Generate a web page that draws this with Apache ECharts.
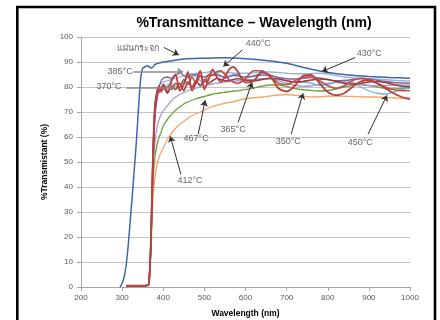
<!DOCTYPE html>
<html>
<head>
<meta charset="utf-8">
<script src="https://cdn.jsdelivr.net/npm/echarts@6/dist/echarts.min.js"></script>
<style>
html, body { margin: 0; padding: 0; background: #fff; }
#chart { width: 440px; height: 320px; }
</style>
</head>
<body>
<div id="chart"></div>
<script>
// wavelength (nm) shared by the annealed samples
var wavelength = [310,320,330,340,350,360,365,370,375,380,385,390,395,400,
  410,420,430,440,450,460,470,480,490,500,510,520,530,540,550,560,570,580,590,600,
  620,640,660,680,700,720,740,760,780,800,820,840,860,880,900,920,940,960,980,1000];

// plain glass (แผ่นกระจก) has its own wavelength points
var glassWl = [295,300,305,310,315,320,325,330,335,340,345,350,355,360,365,370,375,380,390,400,
  425,450,500,550,600,650,700,750,800,850,900,950,1000];
var glassT = [0,1.5,4,9,17,27,37,48,59,72,83,87.5,88,88.5,88.2,87.6,88,89,89.6,90,
  90.6,91.2,91.5,91.7,91.3,90.6,89.5,87.5,85.8,84.8,84.2,83.8,83.5];

var t412 = [0.5,0.5,0.5,0.5,0.5,0.6,1, 16,35,44,49,52,54,55.5,
  59,61.5,63.5,65,66.3,67.5,68.5,69.3,70,70.8,71.5,72.2,72.7,73.1,73.5,73.8,74.1,74.5,75,75.3,
  75.7,76,76.4,76.8,77,76.7,76.4,76,76.1,76.3,76.4,76.3,76.2,76.1,76,76,75.8,75.6,75.5,75.3];
var t467 = [0.5,0.5,0.5,0.5,0.5,0.6,1, 17,42,52,57,60,62,64.5,
  67,69,70.7,72,73.2,74,74.7,75.3,75.8,76.2,76.7,77.1,77.4,77.7,77.9,78.1,78.3,78.5,78.7,79,
  79.6,80.3,80.8,80.8,80.2,79.4,78.9,78.6,78.4,78.6,79.2,80,80.7,80.9,80.6,80,79.4,79.2,79.4,79.6];
var t350 = [0.5,0.5,0.5,0.5,0.5,0.6,1, 17,45,58,64,67,69,70.5,
  72.5,74.5,76,77,77.8,78.5,79,79.5,80,80.4,80.8,81.2,81.5,81.8,82,82.2,82.3,82.5,82.6,82.7,
  83,83.3,83.2,82.5,81.5,80.7,80.3,80.5,81,81.5,81.8,81.8,81.5,81,80.6,80.5,80.6,80.8,80.8,80.7];
var t430 = [0.5,0.5,0.5,0.5,0.5,0.6,1, 18,52,72,78,80.5,81.5,82,
  82.5,83,83.5,84,84.5,85,85.3,85.5,85.7,85.8,86,86,86,86,85.8,85.7,85.6,85.5,85.5,85.5,
  85.7,86,86,85.8,85.5,85.3,85.3,85.4,85.5,85.2,84.6,84,83.7,83.5,83.3,83.1,82.9,82.7,82.5,82.4];
var t450 = [0.5,0.5,0.5,0.5,0.5,0.6,1, 18,50,70,76,79,79.5,80,
  80.5,81.5,80.5,80,82,84,85,84,82.5,82,83.5,85,85.5,84.5,83.5,84,85,85,84,83.5,
  84.5,85.5,85,83.5,82.5,82,82,81.5,80.7,81,82,82.7,82,80,78.5,77.5,77.2,78,79,79.5];
var t385 = [0.5,0.5,0.5,0.5,0.5,0.6,1, 17,48,68,75,80,82.5,83.5,
  84,83.5,84.5,85.8,84.5,84,84.5,85,84.5,84,84.5,85,84.8,84.3,84,84.3,84.6,84.5,84.2,84,
  84.3,84.8,84.5,83.8,83.3,83.2,83.5,83.8,83.6,83,82.5,82.5,83,83.3,83.2,82.7,82.2,81.8,81.6,81.5];
var t370 = [0.5,0.5,0.5,0.5,0.5,0.6,1, 18,53,73,78,80.5,78,81,
  77.5,80.5,79,81.5,78.5,82,80,82.5,80.5,83,81.5,82.5,83.5,83,82.5,82.5,83,83.3,83.2,82.8,
  82.5,83,83.5,83.2,82.5,82,82.2,82.8,83.2,83,82.3,81.5,81.2,81.5,82,82.2,81.8,81,80.3,80];
var t365 = [0.5,0.5,0.5,0.5,0.5,0.6,1, 18,50,71,77,78,80,79,
  80,79,81.5,80,83,81,84,81.5,84.5,82,85,84.5,86,86.5,85,83,82,81.5,82,83.5,
  86.5,86.5,84,81.5,81,82.5,84,84,82.5,80.5,79.5,80.5,82.5,83.5,83,81.5,80,79,78.5,78.5];
var t440 = [0.5,0.5,0.5,0.5,0.5,0.6,1, 18,52,72,78,80,79,81,
  78,82.5,85,78.5,81,86,78.5,82,86.5,79,83,87,84,82,84,87,88,86.5,83.5,81.8,
  82.5,86,84.5,79.5,78.2,80.5,84.5,84.8,81.5,78,76.7,77.5,80,82.2,82.7,81.5,79.5,77.5,76,75.2];

// annotations: text, label point, arrow start, arrow end (data units)
var noteText = ["แผ่นกระจก","440°C","430°C","385°C","370°C","467°C","412°C","365°C","350°C","450°C"];
var noteAt = [[338,95.5],[631,97.5],[901,93.5],[295,86.2],[268,80.3],[480,59.5],[465,42.7],[570,63.1],[704,58.3],[879,57.9]];
var noteFrom = [[402,95.8],[592,94.8],[867,91.8],[327,86.2],[310,79.9],[485,61.1],[443,45],[582,65.9],[711,61.1],[898,61.1]];
var noteTo = [[438,92.8],[546,88.2],[786,86.2],[448,86.2],[424,79.9],[502,74.7],[417,60.3],[616,81.9],[740,77.5],[944,76.7]];

var chart = echarts.init(document.getElementById("chart"));

function pairs(xs, ys) {
  return xs.map(function (x, i) { return [x, ys[i]]; });
}

var samples = [
  ["412°C", t412, "#F7A466", 1.3],
  ["467°C", t467, "#72A243", 1.3],
  ["350°C", t350, "#A89CD2", 1.3],
  ["430°C", t430, "#9CB0D6", 1.3],
  ["450°C", t450, "#6FB3DE", 1.3],
  ["385°C", t385, "#8064A2", 1.3],
  ["370°C", t370, "#9B3A37", 1.6],
  ["365°C", t365, "#C0504D", 1.6],
  ["440°C", t440, "#B8403D", 1.8]
];

var series = samples.map(function (s) {
  return {
    name: s[0],
    type: "line",
    data: pairs(wavelength, s[1]),
    smooth: 0.25,
    showSymbol: false,
    lineStyle: { color: s[2], width: s[3] },
    itemStyle: { color: s[2] }
  };
});

var arrows = noteFrom.map(function (p, i) {
  var grayLine = i === 3 || i === 4;
  return [
    { coord: p, lineStyle: { color: grayLine ? "#8a8a8a" : "#303030", width: grayLine ? 1.6 : 1 } },
    { coord: noteTo[i] }
  ];
});

series.push({
  name: "แผ่นกระจก",
  type: "line",
  data: pairs(glassWl, glassT),
  smooth: 0.25,
  showSymbol: false,
  lineStyle: { color: "#3B66AF", width: 1.5 },
  itemStyle: { color: "#3B66AF" },
  markLine: {
    silent: true,
    symbol: ["none", "arrow"],
    symbolSize: 6,
    label: { show: false },
    itemStyle: { color: "#202020" },
    lineStyle: { type: "solid", color: "#303030", width: 1 },
    data: arrows
  }
});

series.push({
  type: "scatter",
  clip: false,
  silent: true,
  symbolSize: 0,
  data: noteAt.map(function (p, i) { return { value: p, name: noteText[i] }; }),
  label: {
    show: true,
    position: "inside",
    formatter: "{b}",
    fontSize: 9,
    fontFamily: "Liberation Sans, sans-serif",
    color: "#404040"
  }
});

var option = {
  animation: false,
  backgroundColor: "#fff",
  graphic: [
    {
      type: "rect",
      silent: true,
      shape: { x: 17.3, y: 7, width: 417.7, height: 330 },
      style: { fill: "none", stroke: "#000", lineWidth: 2.6 }
    },
    {
      type: "text",
      silent: true,
      x: 254,
      y: 23,
      style: {
        text: "%Transmittance – Wavelength (nm)",
        fontSize: 14,
        fontWeight: "bold",
        fontFamily: "Liberation Sans, sans-serif",
        fill: "#000",
        textAlign: "center",
        textVerticalAlign: "middle"
      }
    }
  ],
  grid: { left: 81, right: 30, top: 37, bottom: 33, outerBoundsMode: "none" },
  xAxis: {
    type: "value",
    min: 200,
    max: 1000,
    interval: 100,
    name: "Wavelength (nm)",
    nameLocation: "middle",
    nameGap: 22,
    nameTextStyle: { fontSize: 8.5, fontWeight: "bold", color: "#000", fontFamily: "Liberation Sans, sans-serif" },
    axisLine: { lineStyle: { color: "#a6a6a6" } },
    axisTick: { show: true, length: 4, lineStyle: { color: "#a6a6a6" } },
    axisLabel: {
      fontSize: 8, color: "#595959", margin: 7, fontFamily: "Liberation Sans, sans-serif",
      formatter: function (v) { return String(v); }
    },
    splitLine: { show: false }
  },
  yAxis: {
    type: "value",
    min: 0,
    max: 100,
    interval: 10,
    name: "%Transmistant (%)",
    nameLocation: "middle",
    nameGap: 32,
    nameTextStyle: { fontSize: 8.5, fontWeight: "bold", color: "#000", fontFamily: "Liberation Sans, sans-serif" },
    axisLine: { show: true, lineStyle: { color: "#a6a6a6" } },
    axisTick: { show: true, length: 4, lineStyle: { color: "#a6a6a6" } },
    axisLabel: { fontSize: 8, color: "#595959", margin: 8, fontFamily: "Liberation Sans, sans-serif" },
    splitLine: { show: true, lineStyle: { color: "#c4c4c4", width: 1 } }
  },
  series: series
};

chart.setOption(option);
</script>
</body>
</html>
